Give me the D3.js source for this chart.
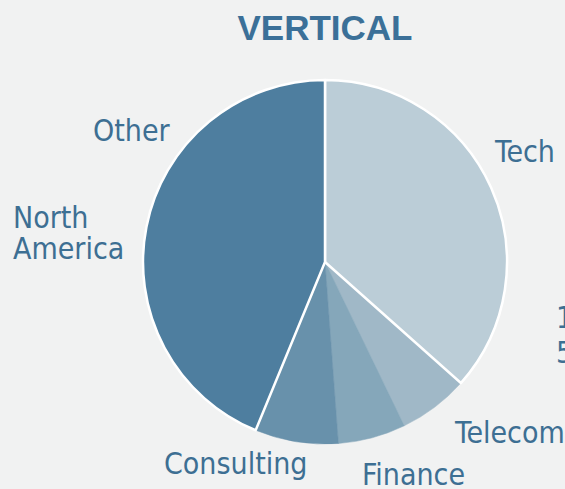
<!doctype html>
<html>
  <head>
    <meta charset='utf-8'>
    <title>Vertical</title>
    <script src='https://d3js.org/d3.v7.min.js'></script>
    <style>
      html, body { margin: 0; padding: 0; background: #f1f2f2; }
      svg { display: block; }
    </style>
  </head>
  <body>
    <svg width='565' height='489'></svg>
    <script>
      // slices, clockwise from 12 o'clock
      var categories = ['Tech', 'Telecom', 'Finance', 'Consulting', 'North America', 'Other'];
      var values = [36.6, 6.25, 6.0, 7.4, 43.8, 0];
      var colors = ['#bbcdd7', '#a0b8c7', '#85a7ba', '#6891ab', '#4e7e9f', '#3d6f93'];
      // the cut-off label at the right edge
      var extraLabel = ['1', '5'];

      var svg = d3.select('svg'),
          cx = 325, cy = 262, radius = 182;

      svg.append('text')
        .attr('x', cx)
        .attr('y', 40)
        .attr('text-anchor', 'middle')
        .attr('font-family', 'Liberation Sans, Arial, sans-serif')
        .attr('font-weight', 'bold')
        .attr('font-size', 35)
        .attr('fill', '#3b7098')
        .text('VERTICAL');

      var data = categories.map(function(c, i) { return {name: c, value: values[i], color: colors[i]}; });

      var pie = d3.pie()
                  .sort(null)
                  .value(function(d) { return d.value; });

      var arc = d3.arc()
                  .innerRadius(0)
                  .outerRadius(radius);

      var g = svg.append('g').attr('transform', 'translate(' + cx + ',' + cy + ')');
      var arcs = pie(data);

      // small slices have no white edge, the two big ones do
      var big = function(d) { return d.data.name === 'Tech' || d.data.name === 'North America'; };

      g.selectAll('.small')
        .data(arcs.filter(function(d) { return !big(d); }))
        .enter().append('path')
        .attr('fill', function(d) { return d.data.color; })
        .attr('stroke', function(d) { return d.data.color; })
        .attr('stroke-width', 0.5)
        .attr('d', arc);

      g.selectAll('.big')
        .data(arcs.filter(big))
        .enter().append('path')
        .attr('fill', function(d) { return d.data.color; })
        .attr('stroke', '#ffffff')
        .attr('stroke-width', 2.5)
        .attr('stroke-linejoin', 'round')
        .attr('d', arc);

      // label spots
      var labelPos = {
        'Tech': [495, 162],
        'Telecom': [455, 443],
        'Finance': [362, 485],
        'Consulting': [164, 474],
        'North America': [13, 228],
        'Other': [93, 141]
      };

      var labels = svg.append('g')
        .attr('font-family', 'DejaVu Sans Condensed, DejaVu Sans, sans-serif')
        .attr('font-size', 30)
        .attr('fill', '#3d6f93');

      labels.selectAll('text')
        .data(categories)
        .enter().append('text')
        .attr('x', function(d) { return labelPos[d][0]; })
        .attr('y', function(d) { return labelPos[d][1]; })
        .each(function(d) {
          var t = d3.select(this);
          d.split(' ').forEach(function(w, i) {
            t.append('tspan')
              .attr('x', labelPos[d][0])
              .attr('dy', i === 0 ? 0 : 31)
              .text(w);
          });
        });

      var extra = labels.append('text')
        .attr('x', 556)
        .attr('y', 328);
      extraLabel.forEach(function(w, i) {
        extra.append('tspan')
          .attr('x', 556)
          .attr('dy', i === 0 ? 0 : 35)
          .text(w);
      });
    </script>
  </body>
</html>
